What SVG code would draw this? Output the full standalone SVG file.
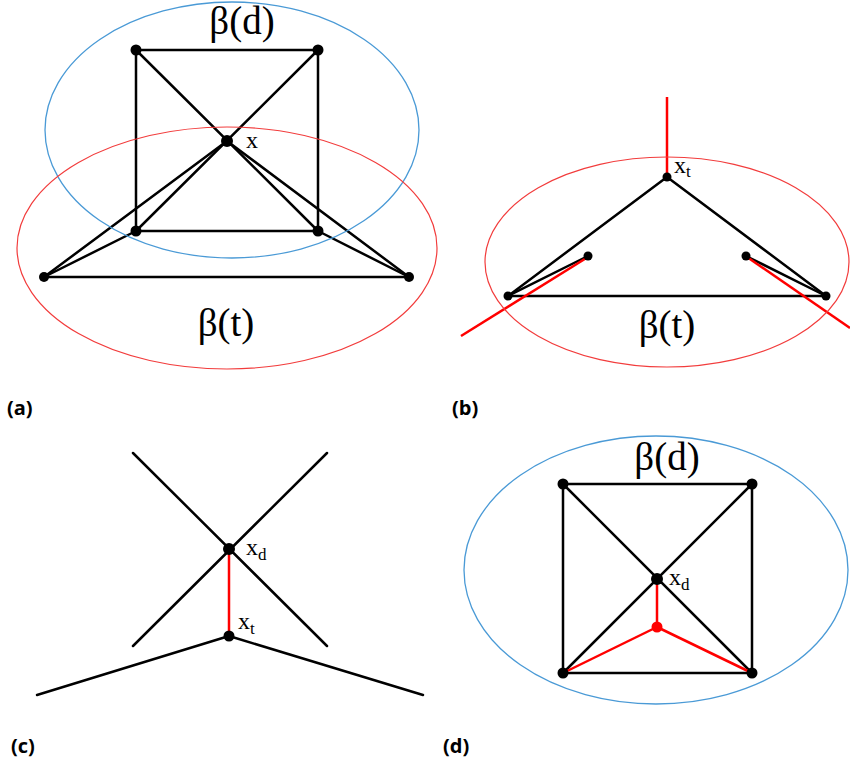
<svg xmlns="http://www.w3.org/2000/svg" width="850" height="764" viewBox="0 0 850 764">
<style>
.e{stroke:#000;stroke-width:2.5;fill:none;stroke-linecap:round}
.r{stroke:#f00;stroke-width:2.5;fill:none}
.n{fill:#000}
.bl{stroke:#4a9ad6;stroke-width:1.3;fill:none}
.rd{stroke:#f23c3c;stroke-width:1.2;fill:none}
.big{font-family:"Liberation Serif","DejaVu Serif",serif;font-size:39px;fill:#000}
.lb{font-family:"Liberation Serif","DejaVu Serif",serif;font-size:24px;fill:#000}
.sub{font-size:17px}
.cap{font-family:"Open Sans","Liberation Sans",sans-serif;font-weight:bold;font-size:20px;fill:#000}
</style>
<rect width="850" height="764" fill="#fff"/>
<g id="connectors">
<line class="e" x1="136" y1="50" x2="318" y2="50"/>
<line class="e" x1="136" y1="50" x2="136" y2="231"/>
<line class="e" x1="318" y1="50" x2="318" y2="231"/>
<line class="e" x1="136" y1="231" x2="318" y2="231"/>
<line class="e" x1="136" y1="50" x2="318" y2="231"/>
<line class="e" x1="318" y1="50" x2="136" y2="231"/>
<line class="e" x1="227" y1="141" x2="44" y2="277"/>
<line class="e" x1="227" y1="141" x2="409" y2="277"/>
<line class="e" x1="136" y1="231" x2="44" y2="277"/>
<line class="e" x1="318" y1="231" x2="409" y2="277"/>
<line class="e" x1="44" y1="277" x2="409" y2="277"/>
<line class="e" x1="667" y1="177" x2="508" y2="296"/>
<line class="e" x1="667" y1="177" x2="826" y2="296"/>
<line class="e" x1="508" y1="296" x2="826" y2="296"/>
<line class="e" x1="508" y1="296" x2="588" y2="256"/>
<line class="e" x1="826" y1="296" x2="746" y2="256"/>
<line class="r" x1="667" y1="97" x2="667" y2="177"/>
<line class="r" x1="461" y1="336" x2="588" y2="257"/>
<line class="r" x1="747" y1="257" x2="850" y2="328"/>
<line class="e" x1="133" y1="453" x2="327" y2="646"/>
<line class="e" x1="327" y1="453" x2="133" y2="646"/>
<line class="e" x1="229" y1="636" x2="37" y2="695"/>
<line class="e" x1="229" y1="636" x2="423" y2="695"/>
<line class="r" x1="229" y1="549" x2="229" y2="636"/>
<line class="e" x1="563" y1="484" x2="752" y2="484"/>
<line class="e" x1="563" y1="484" x2="563" y2="673"/>
<line class="e" x1="752" y1="484" x2="752" y2="673"/>
<line class="e" x1="563" y1="673" x2="752" y2="673"/>
<line class="e" x1="563" y1="484" x2="752" y2="673"/>
<line class="e" x1="752" y1="484" x2="563" y2="673"/>
<line class="r" x1="657" y1="579" x2="657" y2="627"/>
<line class="r" x1="657" y1="627" x2="563" y2="673"/>
<line class="r" x1="657" y1="627" x2="752" y2="673"/>
</g>
<g id="bags">
<ellipse id="beta-d-a" class="bl" cx="232" cy="130" rx="187" ry="128"/>
<ellipse id="beta-t-a" class="rd" cx="227" cy="248" rx="210" ry="121"/>
<ellipse id="beta-t-b" class="rd" cx="667" cy="262" rx="182" ry="105"/>
<ellipse id="beta-d-d" class="bl" cx="656" cy="570" rx="192" ry="134"/>
</g>
<g id="nodes-a">
<circle id="a1" class="n" cx="136" cy="50" r="5.5"/>
<circle id="a2" class="n" cx="318" cy="50" r="5.5"/>
<circle id="a3" class="n" cx="136" cy="231" r="5.5"/>
<circle id="a4" class="n" cx="318" cy="231" r="5.5"/>
<circle id="ax" class="n" cx="227" cy="141" r="6"/>
<circle id="a5" class="n" cx="44" cy="277" r="5"/>
<circle id="a6" class="n" cx="409" cy="277" r="5"/>
</g>
<g id="nodes-b">
<circle id="bxt" class="n" cx="667" cy="177" r="4.5"/>
<circle id="b1" class="n" cx="508" cy="296" r="4.5"/>
<circle id="b2" class="n" cx="826" cy="296" r="4.5"/>
<circle id="b3" class="n" cx="588" cy="256" r="4.5"/>
<circle id="b4" class="n" cx="746" cy="256" r="4.5"/>
</g>
<g id="nodes-c">
<circle id="cxd" class="n" cx="229" cy="549" r="6"/>
<circle id="cxt" class="n" cx="229" cy="636" r="5.5"/>
</g>
<g id="nodes-d">
<circle id="d1" class="n" cx="563" cy="484" r="5.5"/>
<circle id="d2" class="n" cx="752" cy="484" r="5.5"/>
<circle id="d3" class="n" cx="563" cy="673" r="5.5"/>
<circle id="d4" class="n" cx="752" cy="673" r="5.5"/>
<circle id="dxd" class="n" cx="657" cy="579" r="6"/>
<circle id="dr" cx="657" cy="627" r="5.5" fill="#f00"/>
</g>
<g id="labels">
<text class="big" x="242" y="34" text-anchor="middle">β(d)</text>
<text class="big" x="226" y="336" text-anchor="middle">β(t)</text>
<text class="lb" x="246" y="148">x</text>
<text class="lb" x="674" y="173">x<tspan class="sub" dy="4">t</tspan></text>
<text class="big" x="667" y="338" text-anchor="middle">β(t)</text>
<text class="lb" x="246" y="555">x<tspan class="sub" dy="5">d</tspan></text>
<text class="lb" x="238" y="629">x<tspan class="sub" dy="5">t</tspan></text>
<text class="big" x="667" y="470" text-anchor="middle">β(d)</text>
<text class="lb" x="669" y="585">x<tspan class="sub" dy="5">d</tspan></text>
<text class="cap" x="7" y="415">(a)</text>
<text class="cap" x="452" y="415">(b)</text>
<text class="cap" x="11" y="753">(c)</text>
<text class="cap" x="443" y="753">(d)</text>
</g>
</svg>
